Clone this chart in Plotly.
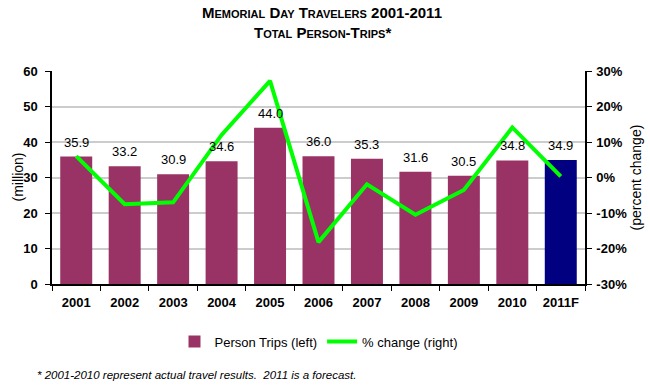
import plotly.graph_objects as go

years = ["2001", "2002", "2003", "2004", "2005", "2006", "2007", "2008", "2009", "2010", "2011F"]
person_trips = [35.9, 33.2, 30.9, 34.6, 44.0, 36.0, 35.3, 31.6, 30.5, 34.8, 34.9]
pct_change = [6.0, -7.5, -7.0, 12.0, 27.2, -18.2, -1.9, -10.5, -3.5, 14.1, 0.3]
left_ticks = [0, 10, 20, 30, 40, 50, 60]
right_ticks = [-30, -20, -10, 0, 10, 20, 30]

bar_colors = ["#993366"] * (len(years) - 1) + ["#000080"]

fig = go.Figure()
fig.add_trace(go.Bar(
    x=years, y=person_trips, name="Person Trips (left)",
    marker=dict(color=bar_colors, line=dict(width=0)),
))
fig.add_trace(go.Scatter(
    x=years, y=pct_change, name="% change (right)", yaxis="y2",
    mode="lines", line=dict(color="#00FF00", width=4),
))

annotations = [
    dict(x=i, y=v, xref="x", yref="y", text=f"{v:.1f}", showarrow=False,
         yanchor="bottom", yshift=5, font=dict(size=13, color="black"))
    for i, v in enumerate(person_trips)
]
annotations += [
    dict(text="<b>Memorial Day Travelers 2001-2011</b>", xref="paper", yref="paper",
         x=(322 - 52) / 533, y=(284 - 12.5) / 213, xanchor="center", yanchor="middle",
         showarrow=False, font=dict(size=15, variant="small-caps")),
    dict(text="<b>Total Person-Trips*</b>", xref="paper", yref="paper",
         x=(322 - 52) / 533, y=(284 - 32) / 213, xanchor="center", yanchor="middle",
         showarrow=False, font=dict(size=15, variant="small-caps")),
    dict(text="(million)", xref="paper", yref="paper", x=(17 - 52) / 533, y=0.5,
         xanchor="center", yanchor="middle", textangle=-90, showarrow=False,
         font=dict(size=14)),
    dict(text="(percent change)", xref="paper", yref="paper", x=(635 - 52) / 533, y=0.5,
         xanchor="center", yanchor="middle", textangle=-90, showarrow=False,
         font=dict(size=14)),
    dict(text="<i>* 2001-2010 represent actual travel results.  2011 is a forecast.</i>",
         xref="paper", yref="paper", x=(35 - 52) / 533, y=(284 - 375) / 213,
         xanchor="left", yanchor="middle", showarrow=False, font=dict(size=11.5)),
]

fig.update_layout(
    width=650, height=387,
    margin=dict(l=52, r=65, t=71, b=103, autoexpand=False),
    paper_bgcolor="white", plot_bgcolor="white",
    font=dict(family="Arial, Liberation Sans", color="black"),
    bargap=0.34,
    showlegend=True,
    legend=dict(orientation="h", x=0.5, xanchor="center", y=-0.2, yanchor="top",
                font=dict(size=13), traceorder="normal", itemwidth=30),
    xaxis=dict(
        type="category", categoryorder="array", categoryarray=years,
        showline=True, linecolor="black", linewidth=1.5, automargin=False,
        ticks="outside", tickson="boundaries", ticklen=5, tickcolor="black",
        tickfont=dict(size=13, weight="bold"), ticklabelstandoff=6, tickangle=0,
    ),
    yaxis=dict(
        range=[0, 60], tickvals=left_ticks, showline=True, linecolor="black", linewidth=1.5,
        ticks="outside", ticklen=5, tickcolor="black", automargin=False,
        gridcolor="#cccccc", gridwidth=1.5,
        tickfont=dict(size=13, weight="bold"), ticklabelstandoff=5,
        zeroline=False,
    ),
    yaxis2=dict(
        range=[-30, 30], tickvals=right_ticks, ticktext=[f"{t}%" for t in right_ticks],
        overlaying="y", side="right", showline=True, linecolor="black", linewidth=1.5,
        ticks="outside", ticklen=5, tickcolor="black", showgrid=False, zeroline=False,
        automargin=False, ticklabelstandoff=2,
        tickfont=dict(size=13, weight="bold"),
    ),
    annotations=annotations,
)

fig.write_html("out.html", config={"displayModeBar": False},
               post_script="document.body.style.margin='0';")
